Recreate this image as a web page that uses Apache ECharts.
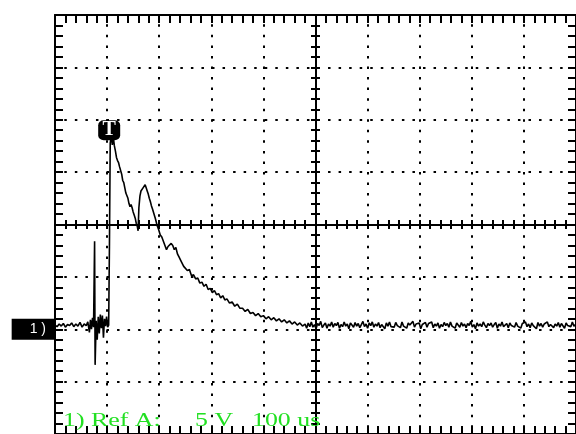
<!DOCTYPE html>
<html><head><meta charset="utf-8">
<script src="https://cdn.jsdelivr.net/npm/echarts@6/dist/echarts.min.js"></script>
<style>html,body{margin:0;padding:0;background:#fff}#c{width:576px;height:434px}</style>
</head><body><div id="c"></div>
<script>
// ---- data (time in microseconds, voltage in volts) ----
const traceTime = [
  0,4,8,12,16,20,24,28,32,36,40,44,48,52,56,60,63,
  66,68,70,72,74,76,77,79,81,83,85,87,89,91,93,95,97,99,101,103,
  104.5,106,108,110,112,114,116,118,120,122,124,126,128,130,132,134,136,138,140,142,144,146,148,150,152,154,156,158,159.5,
  161,163,165,167,169,171,173,175,177,179,181,183,185,187,190,193,196,199,202,205,
  208,211,214,217,220,223,226,229,232,235,238,241,244,247,250,254,258,262,266,270,274,278,282,286,290,
  294,298,302,306,310,314,318,322,326,330,335,340,345,350,355,360,365,370,375,380,385,390,395,400,405,
  410,415,420,425,430,435,440,445,450,455,460,465,470,475,
  480,483,486,489,492,495,498,501,504,507,510,513,516,519,522,525,528,531,534,537,
  540,543,546,549,552,555,558,561,564,567,570,573,576,579,582,585,588,591,594,597,
  600,603,606,609,612,615,618,621,624,627,630,633,636,639,642,645,648,651,654,657,
  660,663,666,669,672,675,678,681,684,687,690,693,696,699,702,705,708,711,714,717,
  720,723,726,729,732,735,738,741,744,747,750,753,756,759,762,765,768,771,774,777,
  780,783,786,789,792,795,798,801,804,807,810,813,816,819,822,825,828,831,834,837,
  840,843,846,849,852,855,858,861,864,867,870,873,876,879,882,885,888,891,894,897,
  900,903,906,909,912,915,918,921,924,927,930,933,936,939,942,945,948,951,954,957,
  960,963,966,969,972,975,978,981,984,987,990,993,996,999
];
const traceVolt = [
  0.4,0.25,0.5,0.3,0.55,0.2,0.45,0.35,0.6,0.25,0.5,0.3,0.65,0.2,0.5,0.35,0.7,
  -0.3,0.9,0.0,1.1,0.2,8.4,-3.4,0.8,-1.0,1.2,-0.4,1.4,0.1,1.3,-0.8,1.0,0.3,1.2,0.2,0.4,
  8.0,17.8,18.4,17.6,18.3,17.5,17.0,16.4,16.1,15.9,15.5,15.4,14.8,14.2,14.0,13.5,13.0,12.9,12.5,12.0,11.7,11.9,11.6,11.2,10.9,10.6,10.1,9.8,9.4,
  11.6,12.7,13.2,13.1,13.5,13.4,13.8,13.5,13.2,12.9,12.5,12.2,11.8,11.5,11.0,10.5,9.9,9.5,9.0,8.8,
  8.4,8.0,7.6,7.9,7.8,8.2,8.0,7.6,7.8,7.2,6.9,6.6,6.5,6.0,6.1,5.6,5.7,5.1,5.2,4.8,4.9,4.4,4.5,4.1,4.3,
  3.8,3.9,3.5,3.7,3.3,3.4,3.0,3.2,2.8,2.9,2.5,2.6,2.2,2.4,2.0,2.0,1.7,1.9,1.5,1.6,1.3,1.5,1.2,1.3,1.0,
  1.2,0.9,1.1,0.8,1.0,0.7,0.9,0.6,0.8,0.5,0.7,0.4,0.6,0.3,
  0.5,0.1,0.6,0.25,0.7,0.2,0.45,0.05,0.55,0.35,0.75,0.15,0.4,0.6,0.1,0.5,0.3,0.7,0.2,0.55,
  0.35,0.65,0.1,0.45,0.25,0.7,0.3,0.5,0.05,0.6,0.4,0.2,0.65,0.3,0.55,0.15,0.45,0.75,0.25,0.5,
  0.1,0.6,0.35,0.7,0.2,0.5,0.3,0.65,0.15,0.45,0.55,0.05,0.6,0.3,0.7,0.25,0.4,0.2,0.65,0.35,
  0.5,0.15,0.7,0.3,0.45,0.1,0.6,0.4,0.25,0.75,0.2,0.5,0.35,0.6,0.05,0.45,0.3,0.65,0.2,0.55,
  0.4,0.7,0.15,0.5,0.3,0.6,0.1,0.45,0.25,0.65,0.35,0.55,0.2,0.7,0.3,0.4,0.1,0.6,0.45,0.2,
  0.65,0.3,0.5,0.15,0.55,0.35,0.75,0.2,0.45,0.05,0.6,0.3,0.5,0.25,0.7,0.4,0.15,0.55,0.35,0.6,
  0.2,0.45,0.65,0.1,0.5,0.3,0.7,0.25,0.4,0.55,0.15,0.6,0.35,0.5,0.2,0.65,0.3,0.45,0.1,0.55,
  0.4,0.7,0.25,0.5,0.15,0.6,0.35,0.45,0.05,0.65,0.3,0.55,0.2,0.5,0.35,0.7,0.25,0.45,0.6,0.15,
  0.5,0.3,0.65,0.2,0.55,0.4,0.1,0.6,0.35,0.5,0.25,0.7,0.3,0.45
];
const voltsPerDiv = 5;
const timePerDiv = 100;
const groundDivFromBottom = 2;
const triggerTime = 104;
const triggerLevel = 19;
const groundLabel = '1 )';
const channelText = '1) Ref A:';
const scaleText = '5 V';
const timebaseText = '100 us';

// ---- layout ----
const G = {left: 55, top: 15, width: 527, height: 422};
const minor = G.height / 8 / 5;
const dotted = {color: '#000', width: 2, type: [2.5, minor - 2.5], dashOffset: 1.25};
const black = '#000';

function gratX(pos, inside, len, onZero, split) {
  return {
    type: 'value', min: -5, max: 5, interval: 1, position: pos,
    axisLine: {show: true, onZero: onZero, lineStyle: {color: black, width: 2}},
    axisTick: {show: true, inside: inside, length: len, lineStyle: {color: black, width: 2}},
    minorTick: {show: true, splitNumber: 5, length: len, lineStyle: {color: black, width: 2}},
    axisLabel: {show: false},
    splitLine: {show: split, lineStyle: dotted}
  };
}
function gratY(pos, inside, len, onZero, split) {
  return {
    type: 'value', min: -4, max: 4, interval: 1, position: pos,
    axisLine: {show: true, onZero: onZero, lineStyle: {color: black, width: 2}},
    axisTick: {show: true, inside: inside, length: len, lineStyle: {color: black, width: 2}},
    minorTick: {show: true, splitNumber: 5, length: len, lineStyle: {color: black, width: 2}},
    axisLabel: {show: false},
    splitLine: {show: split, lineStyle: dotted}
  };
}

const xAxes = [
  Object.assign(gratX('top', true, 8, false, true), {gridIndex: 0}),
  Object.assign(gratX('bottom', true, 8, false, false), {gridIndex: 0}),
  Object.assign(gratX('bottom', true, 4.5, true, false), {gridIndex: 1}),
  Object.assign(gratX('bottom', false, 4.5, true, false), {gridIndex: 2}),
  {gridIndex: 3, type: 'value', min: 0, max: 10 * timePerDiv, show: false}
];
const yAxes = [
  Object.assign(gratY('left', true, 8, false, true), {gridIndex: 0}),
  Object.assign(gratY('right', true, 8, false, false), {gridIndex: 0}),
  Object.assign(gratY('left', true, 4.5, true, false), {gridIndex: 1}),
  Object.assign(gratY('left', false, 4.5, true, false), {gridIndex: 2}),
  {
    gridIndex: 3, type: 'value',
    min: -groundDivFromBottom * voltsPerDiv, max: (8 - groundDivFromBottom) * voltsPerDiv,
    axisLine: {show: false}, axisTick: {show: false}, splitLine: {show: false},
    axisLabel: {
      show: true, customValues: [0], margin: 0, formatter: () => groundLabel,
      color: '#fff', backgroundColor: '#000', fontSize: 14, fontFamily: 'Liberation Sans',
      padding: [4, 9, 3, 18], lineHeight: 14
    }
  }
];

const chart = echarts.init(document.getElementById('c'), null, {renderer: 'canvas'});
chart.setOption({
  animation: false,
  backgroundColor: '#fff',
  grid: [0, 1, 2, 3].map(() => Object.assign({containLabel: false}, G)),
  xAxis: xAxes,
  yAxis: yAxes,
  series: [{
    type: 'line', xAxisIndex: 4, yAxisIndex: 4,
    data: traceTime.map((t, i) => [t, traceVolt[i]]),
    showSymbol: false, symbol: 'none',
    lineStyle: {color: '#000', width: 1.6},
    z: 5,
    markPoint: {
      symbol: 'roundRect', symbolSize: [22, 20], silent: true,
      itemStyle: {color: '#000'},
      label: {show: true, formatter: 'T', color: '#fff', fontSize: 20, fontWeight: 'bold',
        fontFamily: 'Liberation Serif', position: 'inside'},
      data: [{coord: [triggerTime, triggerLevel]}]
    }
  }],
  graphic: [
    {type: 'text', left: 63, top: 412, scaleX: 1.36, z: 10,
      style: {text: channelText, fill: '#22e022', font: '19px "Liberation Serif"'}},
    {type: 'text', left: 195, top: 412, scaleX: 1.36, z: 10,
      style: {text: scaleText, fill: '#22e022', font: '19px "Liberation Serif"'}},
    {type: 'text', left: 252, top: 412, scaleX: 1.36, z: 10,
      style: {text: timebaseText, fill: '#22e022', font: '19px "Liberation Serif"'}}
  ]
});
</script></body></html>
